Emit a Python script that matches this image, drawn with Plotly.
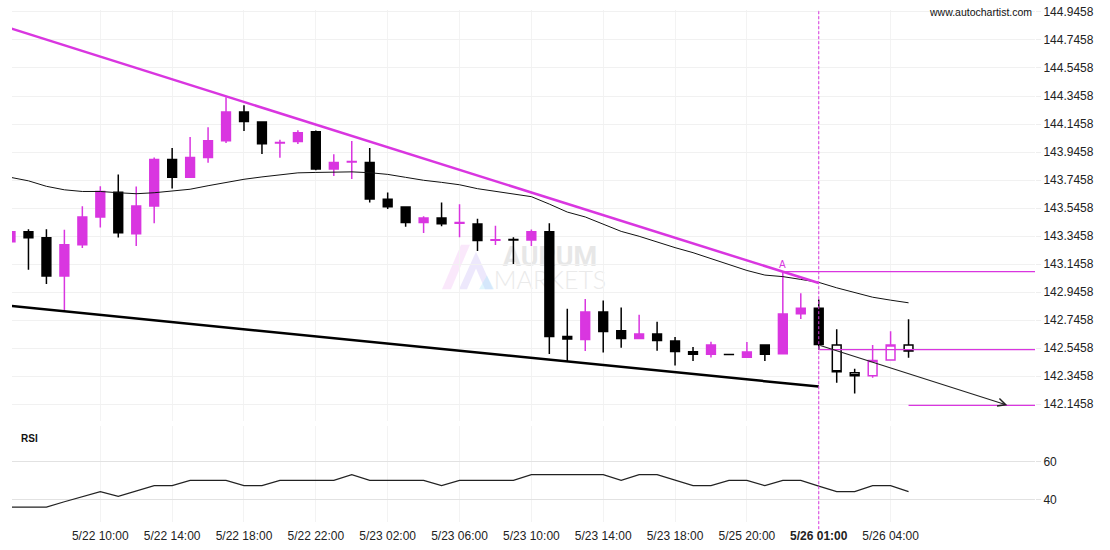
import plotly.graph_objects as go

# ---------------- data ----------------
candle_idx = list(range(51))  # hourly candles, 5/22 05:00 ... 5/26 06:00 (weekend gap)

opens = [143.305, 143.376, 143.333, 143.060, 143.284, 143.482, 143.659, 143.362, 143.560, 143.892,
         143.765, 143.906, 144.026, 144.232, 144.161, 144.010, 144.021, 144.090, 143.824, 143.874,
         143.871, 143.609, 143.553, 143.442, 143.475, 143.437, 143.432, 143.315, 143.321, 143.317,
         143.376, 142.628, 142.607, 142.803, 142.669, 142.614, 142.647, 142.596, 142.520, 142.501,
         142.4995, 142.480, 142.568, 142.506, 142.791, 142.831, 142.568, 142.369, 142.348, 142.461,
         142.568]
highs = [143.380, 143.395, 143.395, 143.390, 143.558, 143.701, 143.786, 143.699, 143.906, 143.975,
         144.053, 144.123, 144.336, 144.279, 144.161, 144.034, 144.102, 144.099, 143.930, 144.024,
         143.975, 143.657, 143.553, 143.487, 143.586, 143.572, 143.470, 143.420, 143.338, 143.392,
         143.437, 142.826, 142.897, 142.886, 142.836, 142.784, 142.734, 142.624, 142.553, 142.591,
         142.500, 142.589, 142.568, 143.091, 142.937, 142.893, 142.681, 142.398, 142.568, 142.666,
         142.751]
lows = [143.303, 143.105, 143.003, 142.808, 143.261, 143.406, 143.336, 143.275, 143.437, 143.685,
        143.760, 143.869, 144.010, 144.095, 143.932, 143.904, 144.003, 143.816, 143.774, 143.753,
        143.586, 143.539, 143.413, 143.367, 143.416, 143.338, 143.239, 143.282, 143.147, 143.275,
        142.504, 142.449, 142.525, 142.515, 142.548, 142.614, 142.527, 142.421, 142.454, 142.478,
        142.499, 142.480, 142.454, 142.499, 142.754, 142.536, 142.299, 142.221, 142.334, 142.461,
        142.476]
closes = [143.376, 143.333, 143.060, 143.284, 143.482, 143.664, 143.369, 143.560, 143.892, 143.765,
          143.906, 144.026, 144.232, 144.163, 144.005, 144.014, 144.083, 143.824, 143.871, 143.878,
          143.611, 143.555, 143.442, 143.475, 143.434, 143.442, 143.314, 143.319, 143.317, 143.376,
          142.628, 142.610, 142.803, 142.664, 142.614, 142.647, 142.600, 142.522, 142.501, 142.567,
          142.499, 142.518, 142.501, 142.789, 142.831, 142.572, 142.376, 142.348, 142.457, 142.568,
          142.525]

moving_avg = [143.765, 143.740, 143.701, 143.676, 143.664, 143.664, 143.655, 143.648, 143.655, 143.666,
              143.680, 143.705, 143.729, 143.751, 143.768, 143.783, 143.797, 143.800, 143.800, 143.804,
              143.798, 143.786, 143.765, 143.744, 143.729, 143.712, 143.684, 143.666, 143.648, 143.627,
              143.574, 143.517, 143.482, 143.432, 143.379, 143.344, 143.302, 143.263, 143.227, 143.185,
              143.142, 143.100, 143.067, 143.056, 143.036, 143.015, 142.976, 142.941, 142.909, 142.888,
              142.869]

rsi = [36.0, 36.0, 36.0, 38.8, 41.5, 44.2, 41.7, 44.5, 47.3, 47.3,
       50.1, 50.1, 50.1, 47.3, 47.3, 50.1, 50.1, 50.1, 50.1, 53.1,
       50.1, 50.1, 50.1, 50.1, 47.3, 50.1, 50.1, 50.1, 50.1, 53.1,
       53.1, 53.1, 53.1, 53.1, 50.1, 53.1, 53.1, 50.2, 47.3, 47.3,
       50.1, 50.1, 47.3, 50.1, 50.1, 47.1, 44.2, 44.2, 47.3, 47.3,
       44.2]

hollow_from = 46  # candles after the pattern end are drawn hollow

upper_trend_x = [0, 45]
upper_trend_y = [144.829, 143.010]
lower_trend_x = [0, 45]
lower_trend_y = [142.847, 142.271]

level_start = [43, 45, 50]
level_price = [143.091, 142.535, 142.136]

forecast_x = [45, 55.5]
forecast_y = [142.567, 142.138]

pattern_end_x = 45
point_a = (43, 143.091)

tick_idx = [5, 9, 13, 17, 21, 25, 29, 33, 37, 41, 45, 49]
tick_text = ["5/22 10:00", "5/22 14:00", "5/22 18:00", "5/22 22:00", "5/23 02:00", "5/23 06:00",
             "5/23 10:00", "5/23 14:00", "5/23 18:00", "5/25 20:00", "<b>5/26 01:00</b>", "5/26 04:00"]

price_ticks = [142.1458 + 0.2 * k for k in range(15)]
rsi_ticks = [40, 60]

# ---------------- style ----------------
MAG = "#D936E0"
BLK = "#000000"
FONT = "Liberation Sans, Arial, sans-serif"
X_MIN, X_MAX = 0.0835, 57.04
L, R, T, B = 12, 75, 5, 28
W, H = 1110, 550
PW, PH = W - L - R, H - T - B


def px2paper(px, py):
    return (px - L) / PW, (H - B - py) / PH


fig = go.Figure()

solid = slice(0, hollow_from)
hollow = slice(hollow_from, None)

fig.add_trace(go.Candlestick(
    x=candle_idx[solid], open=opens[solid], high=highs[solid], low=lows[solid], close=closes[solid],
    increasing=dict(line=dict(color=MAG, width=1.5), fillcolor=MAG),
    decreasing=dict(line=dict(color=BLK, width=1.5), fillcolor=BLK),
    whiskerwidth=0, showlegend=False, xaxis="x", yaxis="y"))
fig.add_trace(go.Candlestick(
    x=candle_idx[hollow], open=opens[hollow], high=highs[hollow], low=lows[hollow], close=closes[hollow],
    increasing=dict(line=dict(color=MAG, width=1.5), fillcolor="white"),
    decreasing=dict(line=dict(color=BLK, width=1.5), fillcolor="white"),
    whiskerwidth=0, showlegend=False, xaxis="x", yaxis="y"))

fig.add_trace(go.Scatter(x=candle_idx, y=moving_avg, mode="lines",
                         line=dict(color="#111111", width=1), showlegend=False, hoverinfo="skip"))
fig.add_trace(go.Scatter(x=upper_trend_x, y=upper_trend_y, mode="lines",
                         line=dict(color=MAG, width=2.5), showlegend=False, hoverinfo="skip"))
fig.add_trace(go.Scatter(x=lower_trend_x, y=lower_trend_y, mode="lines",
                         line=dict(color=BLK, width=2.5), showlegend=False, hoverinfo="skip"))

fig.add_trace(go.Scatter(x=candle_idx, y=rsi, mode="lines", line=dict(color="#222222", width=1.2),
                         showlegend=False, hoverinfo="skip", xaxis="x2", yaxis="y2"))

shapes = []
for xs, p in zip(level_start, level_price):
    shapes.append(dict(type="line", xref="x", yref="y", x0=xs, x1=X_MAX, y0=p, y1=p,
                       line=dict(color=MAG, width=1.3)))
shapes.append(dict(type="line", xref="x", yref="paper", x0=pattern_end_x, x1=pattern_end_x,
                   y0=-0.014, y1=1.0, line=dict(color=MAG, width=1, dash="3px,2px")))

# watermark (faint, below traces)
def poly(points):
    pts = [px2paper(a, b) for a, b in points]
    return "M " + " L ".join(f"{a:.5f},{b:.5f}" for a, b in pts) + " Z"

shapes.append(dict(type="path", xref="paper", yref="paper", layer="below",
                   path=poly([(442, 287), (451, 287), (470, 242), (461, 242)]),
                   fillcolor="rgba(238,180,242,0.30)", line=dict(width=0)))
shapes.append(dict(type="path", xref="paper", yref="paper", layer="below",
                   path=poly([(459, 287), (467, 287), (476, 266), (485, 287), (493, 287), (476, 249)]),
                   fillcolor="rgba(195,180,245,0.30)", line=dict(width=0)))
shapes.append(dict(type="path", xref="paper", yref="paper", layer="below",
                   path=poly([(479, 287), (494, 287), (487, 273)]),
                   fillcolor="rgba(170,228,250,0.35)", line=dict(width=0)))
x0p, y0p = px2paper(495, 241)
x1p, y1p = px2paper(605, 264)
shapes.append(dict(type="rect", xref="paper", yref="paper", layer="below",
                   x0=x0p, x1=x1p, y0=y1p, y1=y0p, line=dict(width=0), fillcolor="rgba(0,0,0,0)",
                   label=dict(text="<b>AURUM</b>", textposition="middle center",
                              font=dict(family="Roboto, Liberation Sans", size=27, color="#e7e7e7"))))
x0p, y0p = px2paper(495, 265)
x1p, y1p = px2paper(605, 288)
shapes.append(dict(type="rect", xref="paper", yref="paper", layer="below",
                   x0=x0p, x1=x1p, y0=y1p, y1=y0p, line=dict(width=0), fillcolor="rgba(0,0,0,0)",
                   label=dict(text="MARKETS", textposition="middle center",
                              font=dict(family="Lato, Roboto, Liberation Sans", size=25, color="#eaeaea",
                                        weight=300))))

annotations = [
    dict(text="A", x=point_a[0], y=point_a[1], xref="x", yref="y", showarrow=False,
         yanchor="bottom", yshift=0, font=dict(family=FONT, size=10, color=MAG)),
    dict(text="", x=forecast_x[1], y=forecast_y[1], ax=forecast_x[0], ay=forecast_y[0],
         xref="x", yref="y", axref="x", ayref="y", showarrow=True, arrowhead=5,
         arrowsize=1.4, arrowwidth=1.1, arrowcolor="#222222", standoff=0),
    dict(text="www.autochartist.com", x=1, y=px2paper(0, 7)[1], xref="paper", yref="paper",
         xanchor="right", yanchor="middle", xshift=-1, showarrow=False,
         font=dict(family=FONT, size=10.5, color="#111111")),
    dict(text="<b>RSI</b>", x=px2paper(19, 0)[0], y=px2paper(0, 437.5)[1], xref="paper", yref="paper",
         xanchor="left", yanchor="middle", showarrow=False,
         font=dict(family=FONT, size=10, color="#111111")),
]

fig.update_layout(
    width=W, height=H,
    margin=dict(l=L, r=R, t=T, b=B),
    paper_bgcolor="white", plot_bgcolor="white",
    font=dict(family=FONT, size=12, color="#222222"),
    boxgap=0.3,
    shapes=shapes, annotations=annotations,
    hovermode=False,
    xaxis=dict(domain=[0, 1], range=[X_MIN, X_MAX], anchor="y", showticklabels=False,
               tickmode="array", tickvals=tick_idx, showgrid=True, gridcolor="#f3f3f3", gridwidth=1,
               zeroline=False, showline=False, ticks="", rangeslider=dict(visible=False)),
    yaxis=dict(domain=[(H - B - 420) / PH, 1], range=[142.0251, 144.9599], side="right",
               tickmode="array", tickvals=price_ticks, ticktext=[f"{v:.4f}" for v in price_ticks],
               showgrid=True, gridcolor="#f1f1f1", gridwidth=1, zeroline=False, showline=False,
               ticks="outside", ticklen=5, tickcolor="#eeeeee",
               tickfont=dict(family=FONT, size=12, color="#222222")),
    xaxis2=dict(domain=[0, 1], range=[X_MIN, X_MAX], anchor="y2", matches="x",
                tickmode="array", tickvals=tick_idx, ticktext=tick_text,
                showgrid=True, gridcolor="#f3f3f3", zeroline=False, showline=False,
                ticks="outside", ticklen=3, tickcolor="rgba(0,0,0,0)",
                tickfont=dict(family=FONT, size=12, color="#222222")),
    yaxis2=dict(domain=[0, (H - B - 425) / PH], range=[28.15, 78.8], side="right",
                tickmode="array", tickvals=rsi_ticks, showgrid=True, gridcolor="#e2e2e2",
                zeroline=False, showline=False, ticks="outside", ticklen=5, tickcolor="#e2e2e2",
                tickfont=dict(family=FONT, size=12, color="#222222")),
)

fig.write_html("out.html", config={"displayModeBar": False},
               post_script="document.body.style.margin='0px';")
